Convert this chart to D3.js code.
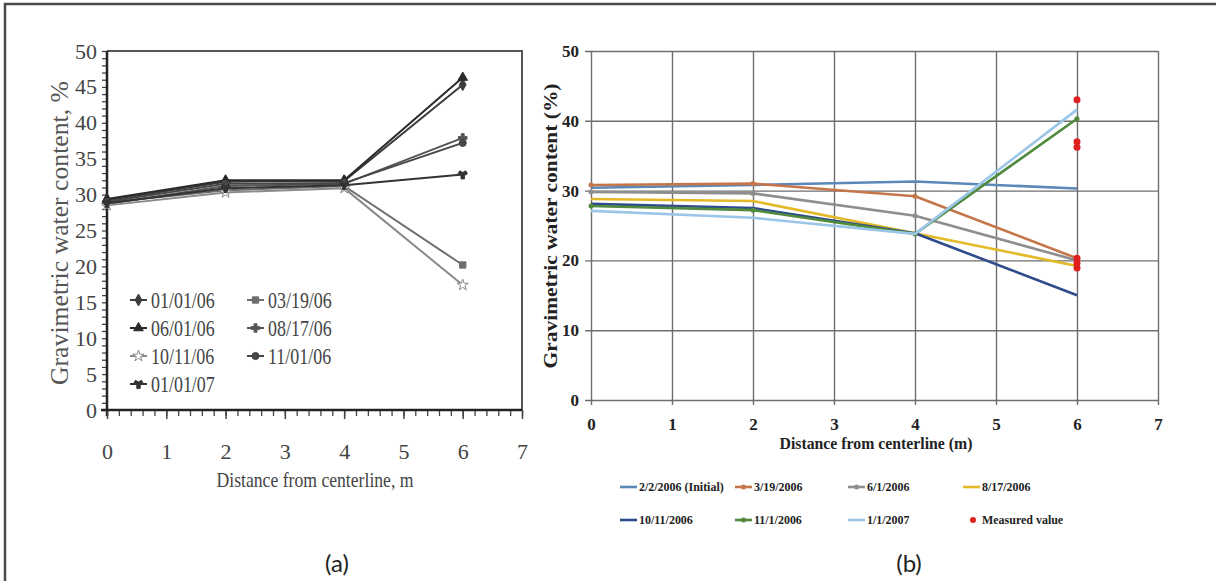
<!DOCTYPE html>
<html>
<head>
<meta charset="utf-8">
<script src="https://cdn.jsdelivr.net/npm/d3@7"></script>
<style>
  body { margin: 0; background: #fff; }
  svg { display: block; }
</style>
</head>
<body>
<div id="chart"></div>
<script>
// chart (a) data
const distA = [0, 2, 4, 6];
const namesA = ["01/01/06", "03/19/06", "06/01/06", "08/17/06", "10/11/06", "11/01/06", "01/01/07"];
const valuesA = [
  [29.2, 31.8, 31.9, 45.3],
  [28.9, 30.6, 31.2, 20.2],
  [29.4, 32.0, 32.0, 46.3],
  [28.7, 31.2, 31.5, 37.9],
  [28.5, 30.3, 30.9, 17.4],
  [29.0, 31.5, 31.6, 37.2],
  [28.8, 30.9, 31.3, 32.8]
];
const yTicksA = [0, 5, 10, 15, 20, 25, 30, 35, 40, 45, 50];
const xTicksA = [0, 1, 2, 3, 4, 5, 6, 7];

// chart (b) data
const distB = [0, 2, 4, 6];
const namesB = ["2/2/2006 (Initial)", "3/19/2006", "6/1/2006", "8/17/2006", "10/11/2006", "11/1/2006", "1/1/2007"];
const valuesB = [
  [30.4, 30.8, 31.3, 30.3],
  [30.8, 31.0, 29.2, 20.3],
  [29.8, 29.6, 26.4, 20.0],
  [28.8, 28.5, 23.9, 19.2],
  [28.1, 27.5, 23.9, 15.0],
  [27.8, 27.2, 23.8, 40.3],
  [27.1, 26.1, 23.8, 41.6]
];
const measuredX = [6, 6, 6, 6, 6, 6];
const measuredY = [43.0, 37.0, 36.2, 20.3, 19.6, 18.9];
const yTicksB = [0, 10, 20, 30, 40, 50];
const xTicksB = [0, 1, 2, 3, 4, 5, 6, 7];

const colorsA = ["#3c3c3c", "#6e6e6e", "#2a2a2a", "#555555", "#8a8a8a", "#474747", "#333333"];
const shapesA = [d3.symbolDiamond, d3.symbolSquare, d3.symbolTriangle, d3.symbolCross, d3.symbolStar, d3.symbolCircle, d3.symbolWye];
const colorsB = ["#5b88b8", "#c4764a", "#8e8e8e", "#e4b826", "#2e4c8c", "#4f8a3d", "#9cc6e8"];
const markB = [false, true, true, false, false, true, false];

const W = 1216, H = 581;
const svg = d3.select("#chart").append("svg").attr("width", W).attr("height", H);

// squeeze text to a share of its natural width
function squeeze(sel, k) {
  sel.each(function () {
    const len = this.getComputedTextLength();
    d3.select(this).attr("textLength", len * k).attr("lengthAdjust", "spacingAndGlyphs");
  });
}
function fitTo(sel, w) {
  sel.attr("textLength", w).attr("lengthAdjust", "spacingAndGlyphs");
}

// outer frame (top and left only)
svg.append("path").attr("d", `M5,${H} L5,4 L${W},4`).attr("fill", "none").attr("stroke", "#4a4a4a").attr("stroke-width", 2.5);

// ---------------- chart (a) ----------------
const ma = {left: 107, right: 522, top: 51, bottom: 410};
const xA = d3.scaleLinear().domain([0, 7]).range([ma.left, ma.right]);
const yA = d3.scaleLinear().domain([0, 50]).range([ma.bottom, ma.top]);
const gA = svg.append("g");
const serif = "'Liberation Serif', 'DejaVu Serif', serif";

// plot frame top/right
gA.append("path").attr("d", `M${ma.left},${ma.top} L${ma.right},${ma.top} L${ma.right},${ma.bottom}`)
  .attr("fill", "none").attr("stroke", "#555").attr("stroke-width", 2);

// y axis with minor ticks
const yAxA = gA.append("g").attr("transform", `translate(${ma.left},0)`)
  .call(d3.axisLeft(yA).tickValues(d3.range(0, 51, 1)).tickSize(5).tickFormat(""));
yAxA.select(".domain").remove();
yAxA.selectAll("line").attr("stroke", "#444").attr("stroke-width", 1.3);
gA.append("g").attr("transform", `translate(${ma.left},0)`)
  .call(d3.axisLeft(yA).tickValues(yTicksA).tickSize(0).tickPadding(10))
  .call(g => g.select(".domain").remove())
  .selectAll("text").attr("font-family", serif).attr("font-size", 22).attr("fill", "#444");
gA.append("line").attr("x1", ma.left).attr("x2", ma.left).attr("y1", ma.top).attr("y2", ma.bottom + 6)
  .attr("stroke", "#222").attr("stroke-width", 2.5);

// x axis with minor ticks
const xAxA = gA.append("g").attr("transform", `translate(0,${ma.bottom})`)
  .call(d3.axisBottom(xA).tickValues(d3.range(0, 7.01, 0.2)).tickSize(6).tickFormat(""));
xAxA.select(".domain").remove();
xAxA.selectAll("line").attr("stroke", "#444").attr("stroke-width", 1.3);
gA.append("g").attr("transform", `translate(0,${ma.bottom})`)
  .call(d3.axisBottom(xA).tickValues(xTicksA).tickFormat(d3.format("d")).tickSize(9).tickPadding(24))
  .call(g => g.select(".domain").remove())
  .call(g => g.selectAll("line").attr("stroke", "#444").attr("stroke-width", 1.5))
  .selectAll("text").attr("font-family", serif).attr("font-size", 22).attr("fill", "#444");
gA.append("line").attr("x1", ma.left - 6).attr("x2", ma.right).attr("y1", ma.bottom).attr("y2", ma.bottom)
  .attr("stroke", "#222").attr("stroke-width", 2.5);

// series
const lineA = d3.line().x((d, i) => xA(distA[i])).y(d => yA(d));
valuesA.forEach((vals, s) => {
  gA.append("path").attr("d", lineA(vals)).attr("fill", "none")
    .attr("stroke", colorsA[s]).attr("stroke-width", 2);
  gA.selectAll(null).data(vals).join("path")
    .attr("transform", (d, i) => `translate(${xA(distA[i])},${yA(d)})`)
    .attr("d", d3.symbol(shapesA[s], 40))
    .attr("fill", s === 4 ? "#fff" : colorsA[s])
    .attr("stroke", colorsA[s]).attr("stroke-width", 1);
});

// legend (a)
const legA = gA.append("g");
namesA.forEach((n, i) => {
  const col = i % 2, row = Math.floor(i / 2);
  const lx = col === 0 ? 130 : 247, ly = 300 + row * 28;
  legA.append("line").attr("x1", lx).attr("x2", lx + 17).attr("y1", ly).attr("y2", ly)
    .attr("stroke", colorsA[i]).attr("stroke-width", 2);
  legA.append("path").attr("transform", `translate(${lx + 8.5},${ly})`)
    .attr("d", d3.symbol(shapesA[i], 40))
    .attr("fill", i === 4 ? "#fff" : colorsA[i]).attr("stroke", colorsA[i]);
  legA.append("text").attr("x", lx + 21).attr("y", ly + 8).text(n)
    .attr("font-family", serif).attr("font-size", 23).attr("fill", "#444")
    .call(squeeze, 0.78);
});

// axis titles (a)
gA.append("text").attr("transform", "translate(68,233) rotate(-90)").attr("text-anchor", "middle")
  .attr("font-family", serif).attr("font-size", 25).attr("fill", "#555")
  .text("Gravimetric water content, %").call(fitTo, 304);
gA.append("text").attr("x", 315).attr("y", 487).attr("text-anchor", "middle")
  .attr("font-family", serif).attr("font-size", 21).attr("fill", "#444")
  .text("Distance from centerline, m").call(fitTo, 197);

// ---------------- chart (b) ----------------
const mb = {left: 591, right: 1158, top: 51, bottom: 400};
const xB = d3.scaleLinear().domain([0, 7]).range([mb.left, mb.right]);
const yB = d3.scaleLinear().domain([0, 50]).range([mb.bottom, mb.top]);
const gB = svg.append("g");

// grid
gB.append("g").attr("transform", `translate(${mb.left},0)`)
  .call(d3.axisLeft(yB).tickValues(yTicksB).tickSize(-(mb.right - mb.left)).tickPadding(12))
  .call(g => g.select(".domain").remove())
  .call(g => g.selectAll("line").attr("x1", -6).attr("stroke", "#6e6e6e").attr("stroke-width", 1.4))
  .selectAll("text").attr("font-family", serif).attr("font-weight", "bold").attr("font-size", 17).attr("fill", "#222");
gB.append("g").attr("transform", `translate(0,${mb.bottom})`)
  .call(d3.axisBottom(xB).tickValues(xTicksB).tickFormat(d3.format("d")).tickSize(-(mb.bottom - mb.top)).tickPadding(18))
  .call(g => g.select(".domain").remove())
  .call(g => g.selectAll("line").attr("y1", 5).attr("stroke", "#6e6e6e").attr("stroke-width", 1.4))
  .selectAll("text").attr("font-family", serif).attr("font-weight", "bold").attr("font-size", 17).attr("fill", "#222");

// series
const lineB = d3.line().x((d, i) => xB(distB[i])).y(d => yB(d));
valuesB.forEach((vals, s) => {
  gB.append("path").attr("d", lineB(vals)).attr("fill", "none")
    .attr("stroke", colorsB[s]).attr("stroke-width", 2.6).attr("stroke-linejoin", "round");
  if (markB[s]) {
    gB.selectAll(null).data(vals).join("circle")
      .attr("cx", (d, i) => xB(distB[i])).attr("cy", d => yB(d)).attr("r", 2.5)
      .attr("fill", colorsB[s]);
  }
});
gB.selectAll(null).data(measuredY).join("circle")
  .attr("cx", (d, i) => xB(measuredX[i])).attr("cy", d => yB(d)).attr("r", 3.5)
  .attr("fill", "#e0201e");

// axis titles (b)
gB.append("text").attr("transform", "translate(557,226) rotate(-90)").attr("text-anchor", "middle")
  .attr("font-family", serif).attr("font-weight", "bold").attr("font-size", 18).attr("fill", "#222")
  .text("Gravimetric water content (%)").call(fitTo, 285);
gB.append("text").attr("x", 876).attr("y", 449).attr("text-anchor", "middle")
  .attr("font-family", serif).attr("font-weight", "bold").attr("font-size", 17).attr("fill", "#222")
  .text("Distance from centerline (m)").call(fitTo, 193);

// legend (b)
const legColsB = [620, 735, 848, 963];
const legB = gB.append("g");
const legItemsB = namesB.concat(["Measured value"]);
legItemsB.forEach((n, i) => {
  const lx = legColsB[i % 4], ly = 487 + Math.floor(i / 4) * 33;
  if (i < namesB.length) {
    legB.append("line").attr("x1", lx).attr("x2", lx + 17).attr("y1", ly).attr("y2", ly)
      .attr("stroke", colorsB[i]).attr("stroke-width", 2.6);
    if (markB[i]) legB.append("circle").attr("cx", lx + 8.5).attr("cy", ly).attr("r", 2.5).attr("fill", colorsB[i]);
  } else {
    legB.append("circle").attr("cx", lx + 10).attr("cy", ly).attr("r", 3).attr("fill", "#e0201e");
  }
  legB.append("text").attr("x", lx + 19).attr("y", ly + 4).text(n)
    .attr("font-family", serif).attr("font-weight", "bold").attr("font-size", 13).attr("fill", "#222")
    .call(squeeze, 0.92);
});

// panel labels
const sans = "Lato, 'Open Sans', sans-serif";
svg.append("text").attr("x", 337).attr("y", 572).attr("text-anchor", "middle")
  .attr("font-family", sans).attr("font-size", 24).attr("fill", "#222").text("(a)");
svg.append("text").attr("x", 909).attr("y", 572).attr("text-anchor", "middle")
  .attr("font-family", sans).attr("font-size", 24).attr("fill", "#222").text("(b)");
</script>
</body>
</html>
